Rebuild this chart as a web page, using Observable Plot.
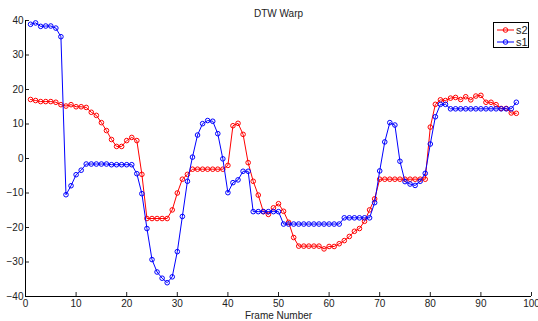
<!DOCTYPE html>
<html>
<head>
<meta charset="utf-8">
<script src="https://cdn.jsdelivr.net/npm/d3@7"></script>
<script src="https://cdn.jsdelivr.net/npm/@observablehq/plot@0.6"></script>
<style>
  html, body { margin: 0; padding: 0; background: #fff; }
  #wrap { position: relative; width: 538px; height: 321px; font-family: "Liberation Sans", Arial, sans-serif; }
  #legend { position: absolute; left: 493px; top: 22px; width: 36px; height: 26px; border: 1px solid #000; background: #fff; box-sizing: border-box; font-size: 11px; color: #222; }
  #legend .row { display: flex; align-items: center; height: 12px; }
  #legend svg { display: block; }
</style>
</head>
<body>
<div id="wrap"></div>
<script>
const title = "DTW Warp";
const xLabel = "Frame Number";
const seriesNames = ["s2", "s1"];
const seriesColors = ["#ff0000", "#0000ff"];
const xTicks = [0, 10, 20, 30, 40, 50, 60, 70, 80, 90, 100];
const yTicks = [-40, -30, -20, -10, 0, 10, 20, 30, 40];

const s2 = [17.1, 16.8, 16.5, 16.5, 16.5, 16.3, 15.6, 15.2, 15.6, 15.0,
  15.0, 14.8, 13.4, 12.5, 10.4, 8.1, 5.5, 3.5, 3.5, 5.2,
  6.1, 5.2, -4.6, -17.4, -17.4, -17.4, -17.4, -17.4, -14.9, -10.0,
  -6.0, -4.6, -3.1, -3.1, -3.1, -3.1, -3.1, -3.1, -3.1, -2.0,
  9.5, 10.2, 7.0, -1.2, -6.6, -10.6, -15.4, -16.2, -14.3, -13.1,
  -15.3, -18.5, -22.9, -25.4, -25.4, -25.4, -25.4, -25.4, -26.2, -25.5,
  -25.5, -24.7, -23.8, -22.6, -21.1, -20.3, -18.2, -14.9, -11.7, -6.0,
  -6.0, -6.0, -6.0, -6.0, -6.0, -6.0, -6.0, -6.0, -6.0, 9.1,
  15.7, 17.0, 16.8, 17.5, 17.7, 17.1, 17.9, 17.0, 18.1, 18.3,
  16.3, 16.3, 15.6, 14.5, 14.5, 13.2, 13.1];

const s1 = [38.9, 39.3, 38.3, 38.4, 38.4, 37.8, 35.3, -10.5, -7.9, -4.7,
  -3.4, -1.6, -1.6, -1.6, -1.6, -1.6, -1.8, -1.8, -1.8, -1.8,
  -1.8, -4.4, -10.2, -20.3, -29.3, -32.9, -34.7, -36.0, -34.3, -27.0,
  -16.8, -6.6, 0.4, 6.8, 10.1, 11.0, 10.8, 7.2, -0.1, -9.9,
  -7.0, -6.2, -3.7, -3.7, -15.4, -15.4, -15.4, -15.4, -15.4, -15.4,
  -19.0, -19.0, -19.0, -19.0, -19.0, -19.0, -19.0, -19.0, -19.0, -19.0,
  -19.0, -19.0, -17.2, -17.2, -17.2, -17.2, -17.2, -17.2, -12.8, -3.6,
  4.8, 10.4, 9.7, -0.8, -6.7, -7.4, -7.8, -6.6, -4.3, 4.2,
  12.1, 15.7, 15.7, 14.4, 14.4, 14.4, 14.4, 14.4, 14.4, 14.4,
  14.4, 14.4, 14.4, 14.4, 14.4, 14.4, 16.3];

const frames = s1.map((_, i) => i + 1);
const d2 = frames.map((f, i) => ({frame: f, value: s2[i]}));
const d1 = frames.map((f, i) => ({frame: f, value: s1[i]}));

const chart = Plot.plot({
  width: 538,
  height: 321,
  marginLeft: 25,
  marginRight: 7,
  marginTop: 20,
  marginBottom: 25,
  style: {fontFamily: "'Liberation Sans', Arial, sans-serif", fontSize: "10px", color: "#222", background: "#fff", overflow: "visible"},
  x: {domain: [0, 100]},
  y: {domain: [-40, 40]},
  marks: [
    Plot.axisX({ticks: xTicks, tickSize: -4, tickPadding: 7, label: xLabel, labelAnchor: "center", labelOffset: 22, labelArrow: "none", fontSize: 10}),
    Plot.axisY({ticks: yTicks, tickSize: -4, tickPadding: 6, label: null, fontSize: 10}),
    Plot.ruleX([0], {stroke: "#000"}),
    Plot.ruleY([-40], {stroke: "#000"}),
    Plot.line(d2, {x: "frame", y: "value", stroke: seriesColors[0], strokeWidth: 1}),
    Plot.dot(d2, {x: "frame", y: "value", stroke: seriesColors[0], fill: "none", r: 2.3, strokeWidth: 1}),
    Plot.line(d1, {x: "frame", y: "value", stroke: seriesColors[1], strokeWidth: 1}),
    Plot.dot(d1, {x: "frame", y: "value", stroke: seriesColors[1], fill: "none", r: 2.3, strokeWidth: 1}),
    Plot.text([title], {frameAnchor: "top", dy: -11, fontSize: 10, fill: "#222"})
  ]
});

const wrap = document.getElementById("wrap");
wrap.appendChild(chart);

const legend = document.createElement("div");
legend.id = "legend";
seriesNames.forEach((name, i) => {
  const row = document.createElement("div");
  row.className = "row";
  row.style.marginTop = i === 0 ? "1px" : "0px";
  row.innerHTML = `<svg width="22" height="12"><line x1="3" x2="20" y1="6" y2="6" stroke="${seriesColors[i]}" stroke-width="1"/><circle cx="11.5" cy="6" r="2.3" fill="none" stroke="${seriesColors[i]}"/></svg><span>${name}</span>`;
  legend.appendChild(row);
});
wrap.appendChild(legend);
</script>
</body>
</html>
